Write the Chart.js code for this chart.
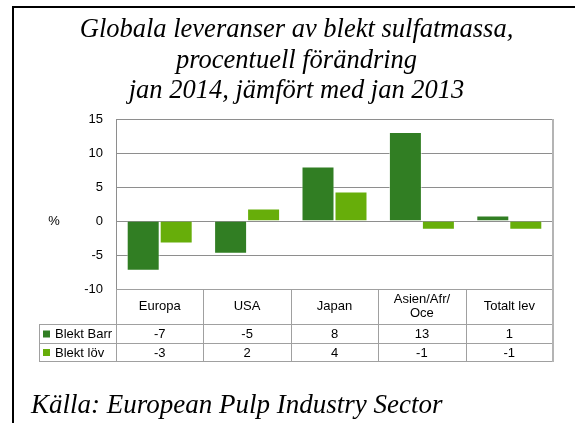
<!DOCTYPE html>
<html>
<head>
<meta charset="utf-8">
<script src="https://cdn.jsdelivr.net/npm/chart.js@4"></script>
<style>
  html, body { margin: 0; padding: 0; background: #fff; }
  #wrap { position: relative; width: 575px; height: 423px; }
  #frame { position: absolute; left: 12px; top: 6px; right: 0; bottom: 0;
           border-top: 2px solid #000; border-left: 2px solid #000; pointer-events: none; }
</style>
</head>
<body>
<div id="wrap">
  <canvas id="myChart" width="575" height="423"></canvas>
  <div id="frame"></div>
</div>
<script>
const categories = ['Europa', 'USA', 'Japan', ['Asien/Afr/', 'Oce'], 'Totalt lev'];
const seriesNames = ['Blekt Barr', 'Blekt löv'];
const blektBarr = [-7.3, -4.8, 8.0, 13.1, 0.8];
const blektLov = [-3.3, 1.85, 4.35, -1.3, -1.3];
const yTicks = [15, 10, 5, 0, -5, -10];

const darkGreen = '#317e23';
const lightGreen = '#67ae0a';
const gridGray = '#8e8e8e';
const sansFont = '"Liberation Sans", Arial, sans-serif';

// data table under the plot, legend keys and footer
const tablePlugin = {
  id: 'tablePlugin',
  afterDraw(chart) {
    const ctx = chart.ctx;
    const x = chart.scales.x;
    const area = chart.chartArea;
    const colW = x.getPixelForValue(1) - x.getPixelForValue(0);
    const rows = [area.bottom, 324, 343, 361];
    const left = 39;
    ctx.save();
    ctx.strokeStyle = '#a0a0a0';
    ctx.lineWidth = 1;
    ctx.beginPath();
    // horizontal lines
    ctx.moveTo(area.left, rows[0] + 0.5); ctx.lineTo(area.right, rows[0] + 0.5);
    for (let i = 1; i < rows.length; i++) {
      ctx.moveTo(left, rows[i] + 0.5); ctx.lineTo(area.right, rows[i] + 0.5);
    }
    // vertical lines
    ctx.moveTo(left + 0.5, rows[1]); ctx.lineTo(left + 0.5, rows[3]);
    for (let i = 0; i <= categories.length; i++) {
      const px = Math.round(x.getPixelForValue(i) - colW / 2) + 0.5;
      ctx.moveTo(px, rows[0]); ctx.lineTo(px, rows[3]);
    }
    ctx.stroke();
    // right edge of plot + table
    ctx.strokeStyle = '#b4b4b4';
    ctx.lineWidth = 2;
    ctx.beginPath();
    ctx.moveTo(area.right, area.top); ctx.lineTo(area.right, rows[3] + 1);
    ctx.stroke();

    ctx.fillStyle = '#000';
    ctx.font = '13px ' + sansFont;
    ctx.textAlign = 'center';
    ctx.textBaseline = 'middle';
    categories.forEach((c, i) => {
      const cx = x.getPixelForValue(i);
      const mid = (rows[0] + rows[1]) / 2;
      if (Array.isArray(c)) {
        ctx.fillText(c[0], cx, mid - 7);
        ctx.fillText(c[1], cx, mid + 7);
      } else {
        ctx.fillText(c, cx, mid);
      }
    });
    const series = [blektBarr, blektLov];
    const colors = [darkGreen, lightGreen];
    series.forEach((vals, r) => {
      const mid = (rows[r + 1] + rows[r + 2]) / 2 + 1;
      ctx.textAlign = 'center';
      vals.forEach((v, i) => {
        ctx.fillText(String(Math.round(v)), x.getPixelForValue(i), mid);
      });
      ctx.fillStyle = colors[r];
      ctx.fillRect(43, mid - 4, 7, 7);
      ctx.fillStyle = '#000';
      ctx.textAlign = 'left';
      ctx.fillText(seriesNames[r], 55, mid);
    });

    // axis unit
    ctx.textAlign = 'center';
    ctx.fillText('%', 54, chart.scales.y.getPixelForValue(0));

    // source line
    ctx.font = 'italic 27px "Liberation Serif", "Times New Roman", serif';
    ctx.textAlign = 'left';
    ctx.textBaseline = 'alphabetic';
    ctx.fillText('Källa: European Pulp Industry Sector', 31, 413);
    ctx.restore();
  }
};

const ctx = document.getElementById('myChart').getContext('2d');
new Chart(ctx, {
  type: 'bar',
  data: {
    labels: categories,
    datasets: [
      { label: seriesNames[0], data: blektBarr, backgroundColor: darkGreen,
        borderColor: 'rgba(255,255,255,0.55)', borderWidth: 1 },
      { label: seriesNames[1], data: blektLov, backgroundColor: lightGreen,
        borderColor: 'rgba(255,255,255,0.55)', borderWidth: 1 }
    ]
  },
  options: {
    responsive: false,
    animation: false,
    layout: { padding: { top: 0, right: 22, bottom: 134, left: 40 } },
    datasets: { bar: { categoryPercentage: 0.755, barPercentage: 1 } },
    plugins: {
      legend: { display: false },
      tooltip: { enabled: false },
      title: {
        display: true,
        text: ['Globala leveranser av blekt sulfatmassa,', 'procentuell förändring', 'jan 2014, jämfört med jan 2013'],
        color: '#000',
        font: { family: '"Liberation Serif", "Times New Roman", serif', size: 26.5, style: 'italic', weight: 'normal', lineHeight: 1.151 },
        padding: { top: 15, bottom: 12.5 }
      }
    },
    scales: {
      x: { display: false },
      y: {
        min: -10, max: 15,
        afterFit(scale) { scale.width = 76; },
        afterBuildTicks(scale) { scale.ticks = yTicks.map(v => ({ value: v })); },
        border: { color: gridGray, width: 1 },
        grid: { color: gridGray, drawTicks: false },
        ticks: { color: '#000', padding: 13, font: { family: sansFont, size: 13 } }
      }
    }
  },
  plugins: [tablePlugin]
});
</script>
</body>
</html>
